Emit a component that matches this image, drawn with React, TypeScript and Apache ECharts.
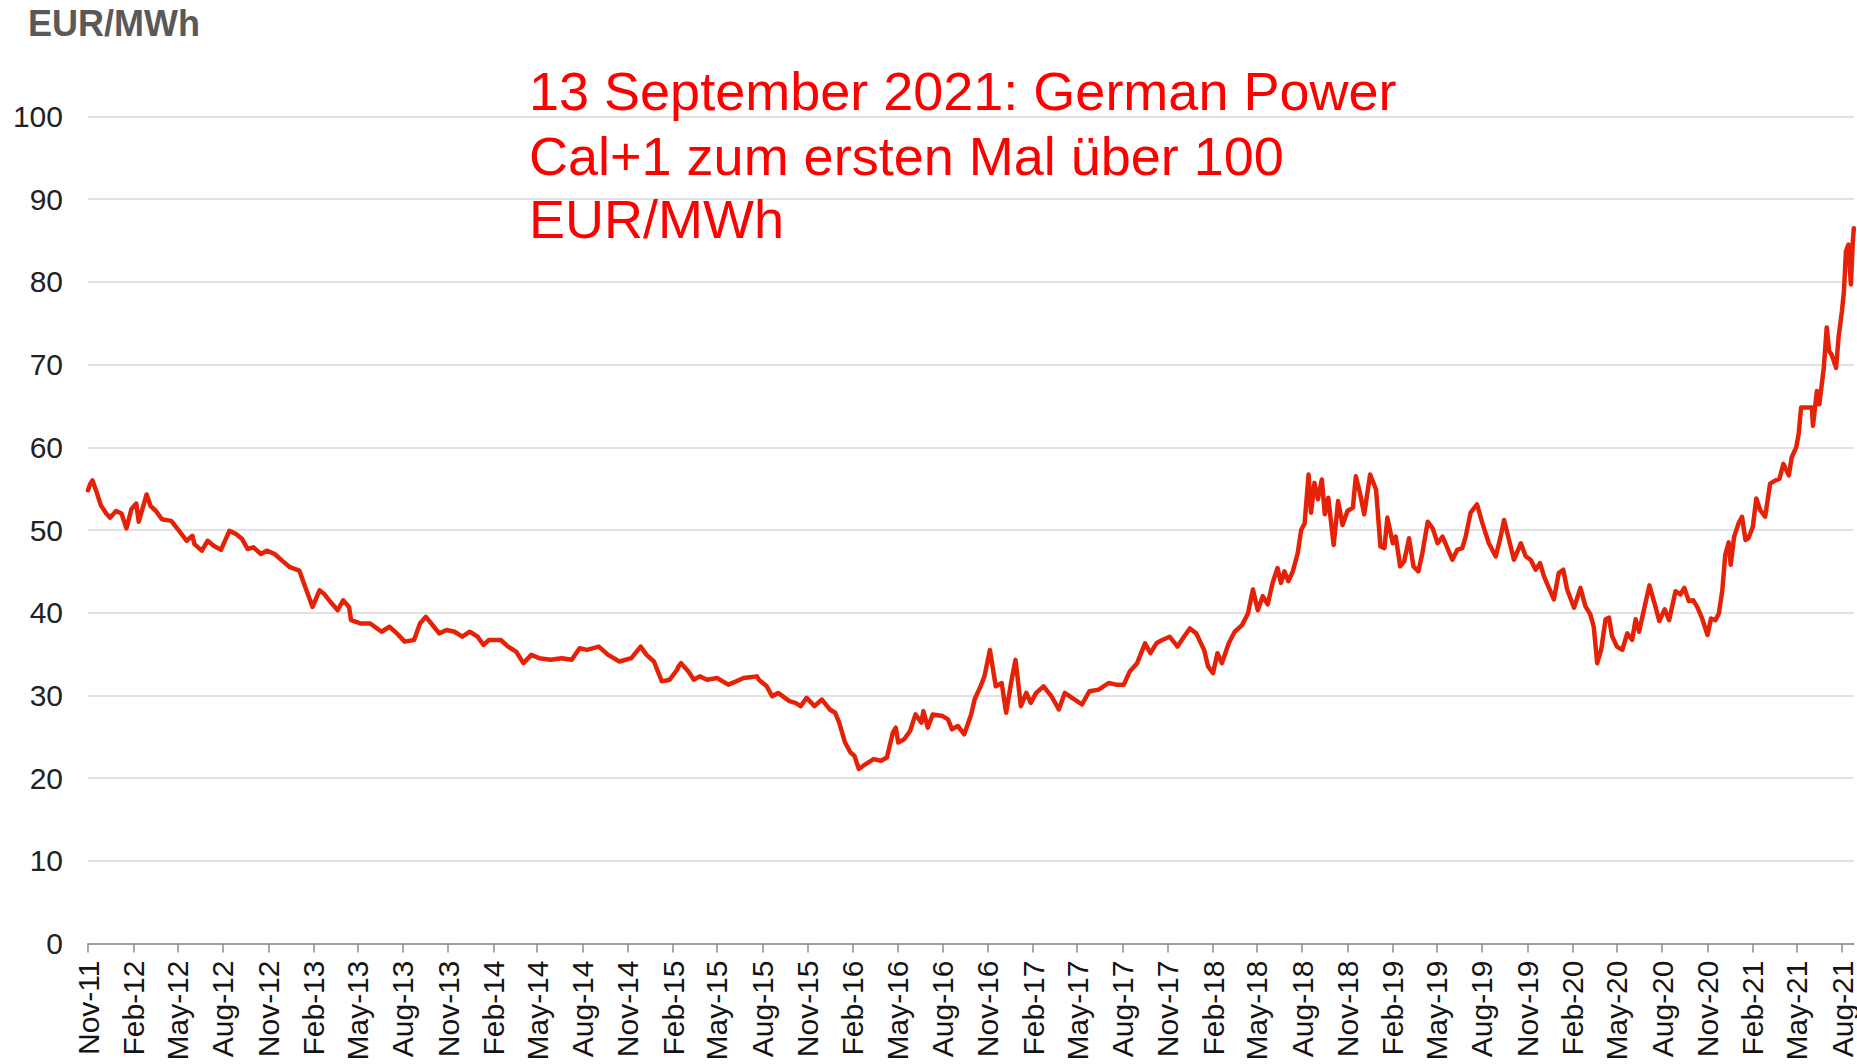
import React, { useEffect, useRef } from "react";
import * as echarts from "echarts";

const FONT = "'Liberation Sans', Arial, Helvetica, sans-serif";

// German Power Cal+1 baseload (EUR/MWh)
const priceDates = [
  "2011-11-01", "2011-11-05", "2011-11-10", "2011-11-19", "2011-11-27", "2011-12-08", "2011-12-16", "2011-12-28",
  "2012-01-08", "2012-01-18", "2012-01-28", "2012-02-07", "2012-02-12", "2012-02-28", "2012-03-07", "2012-03-18",
  "2012-03-30", "2012-04-18", "2012-05-04", "2012-05-19", "2012-05-31", "2012-06-04", "2012-06-19", "2012-07-01",
  "2012-07-13", "2012-07-28", "2012-08-14", "2012-08-28", "2012-09-09", "2012-09-20", "2012-10-02", "2012-10-17",
  "2012-10-29", "2012-11-14", "2012-11-29", "2012-12-15", "2013-01-03", "2013-01-15", "2013-01-30", "2013-02-13",
  "2013-02-22", "2013-03-10", "2013-03-22", "2013-04-02", "2013-04-14", "2013-04-18", "2013-05-07", "2013-05-27",
  "2013-06-19", "2013-07-05", "2013-07-20", "2013-08-05", "2013-08-24", "2013-09-05", "2013-09-17", "2013-09-28",
  "2013-10-14", "2013-10-29", "2013-11-14", "2013-11-30", "2013-12-15", "2013-12-31", "2014-01-12", "2014-01-23",
  "2014-02-16", "2014-03-03", "2014-03-19", "2014-04-03", "2014-04-19", "2014-05-05", "2014-05-28", "2014-06-20",
  "2014-07-10", "2014-07-26", "2014-08-10", "2014-09-03", "2014-09-22", "2014-10-15", "2014-11-08", "2014-11-27",
  "2014-12-09", "2014-12-24", "2015-01-09", "2015-01-25", "2015-02-09", "2015-02-12", "2015-02-17", "2015-03-04",
  "2015-03-15", "2015-03-27", "2015-04-11", "2015-05-01", "2015-05-24", "2015-06-09", "2015-06-24", "2015-07-21",
  "2015-07-25", "2015-08-10", "2015-08-21", "2015-09-02", "2015-09-25", "2015-10-07", "2015-10-18", "2015-10-30",
  "2015-11-15", "2015-11-30", "2015-12-16", "2015-12-27", "2016-01-04", "2016-01-16", "2016-01-27", "2016-02-04",
  "2016-02-13", "2016-02-27", "2016-03-14", "2016-03-29", "2016-04-10", "2016-04-22", "2016-04-28", "2016-05-03",
  "2016-05-15", "2016-05-27", "2016-06-07", "2016-06-19", "2016-06-23", "2016-07-02", "2016-07-12", "2016-08-01",
  "2016-08-12", "2016-08-20", "2016-09-01", "2016-09-14", "2016-09-28", "2016-10-05", "2016-10-17", "2016-10-25",
  "2016-11-05", "2016-11-17", "2016-11-29", "2016-12-08", "2016-12-18", "2016-12-27", "2017-01-07", "2017-01-18",
  "2017-01-27", "2017-02-07", "2017-02-22", "2017-03-10", "2017-03-25", "2017-04-06", "2017-04-21", "2017-05-11",
  "2017-05-26", "2017-06-14", "2017-07-04", "2017-07-19", "2017-08-04", "2017-08-16", "2017-08-31", "2017-09-16",
  "2017-09-27", "2017-10-09", "2017-10-21", "2017-11-05", "2017-11-21", "2017-12-02", "2017-12-16", "2017-12-29",
  "2018-01-14", "2018-01-22", "2018-02-01", "2018-02-10", "2018-02-19", "2018-03-05", "2018-03-17", "2018-04-01",
  "2018-04-13", "2018-04-23", "2018-05-03", "2018-05-13", "2018-05-23", "2018-06-02", "2018-06-12", "2018-06-19",
  "2018-06-26", "2018-07-04", "2018-07-13", "2018-07-23", "2018-07-30", "2018-08-06", "2018-08-14", "2018-08-19",
  "2018-08-26", "2018-09-02", "2018-09-10", "2018-09-16", "2018-09-23", "2018-10-04", "2018-10-13", "2018-10-22",
  "2018-11-01", "2018-11-12", "2018-11-18", "2018-11-27", "2018-12-05", "2018-12-17", "2018-12-29", "2019-01-07",
  "2019-01-15", "2019-01-21", "2019-02-01", "2019-02-07", "2019-02-16", "2019-02-24", "2019-03-06", "2019-03-15",
  "2019-03-25", "2019-04-02", "2019-04-13", "2019-04-23", "2019-05-03", "2019-05-13", "2019-05-23", "2019-06-02",
  "2019-06-12", "2019-06-22", "2019-06-29", "2019-07-09", "2019-07-22", "2019-08-02", "2019-08-15", "2019-08-29",
  "2019-09-08", "2019-09-15", "2019-09-25", "2019-10-05", "2019-10-19", "2019-10-29", "2019-11-08", "2019-11-18",
  "2019-11-27", "2019-12-05", "2019-12-15", "2019-12-25", "2020-01-04", "2020-01-13", "2020-01-21", "2020-02-04",
  "2020-02-17", "2020-02-27", "2020-03-08", "2020-03-15", "2020-03-22", "2020-03-30", "2020-04-08", "2020-04-15",
  "2020-04-21", "2020-05-01", "2020-05-12", "2020-05-22", "2020-06-01", "2020-06-08", "2020-06-15", "2020-06-25",
  "2020-07-06", "2020-07-17", "2020-07-26", "2020-08-06", "2020-08-15", "2020-08-28", "2020-09-07", "2020-09-15",
  "2020-09-24", "2020-10-03", "2020-10-11", "2020-10-21", "2020-11-01", "2020-11-08", "2020-11-17", "2020-11-24",
  "2020-12-01", "2020-12-07", "2020-12-14", "2020-12-18", "2020-12-25", "2021-01-03", "2021-01-10", "2021-01-17",
  "2021-01-23", "2021-02-01", "2021-02-08", "2021-02-16", "2021-02-26", "2021-03-08", "2021-03-19", "2021-03-27",
  "2021-04-04", "2021-04-15", "2021-04-21", "2021-04-30", "2021-05-05", "2021-05-10", "2021-05-25", "2021-06-01",
  "2021-06-03", "2021-06-11", "2021-06-16", "2021-06-25", "2021-07-01", "2021-07-06", "2021-07-11", "2021-07-20",
  "2021-07-25", "2021-08-01", "2021-08-05", "2021-08-09", "2021-08-14", "2021-08-19", "2021-08-23", "2021-08-25",
];

const priceValues = [
  54.8, 55.5, 56.0, 54.5, 53.0, 52.0, 51.5, 52.3,
  52.0, 50.2, 52.5, 53.2, 51.0, 54.3, 52.9, 52.3,
  51.3, 51.1, 49.9, 48.7, 49.3, 48.3, 47.5, 48.7,
  48.1, 47.6, 49.9, 49.5, 48.9, 47.7, 47.9, 47.1,
  47.5, 47.1, 46.3, 45.5, 45.1, 43.1, 40.7, 42.7,
  42.3, 41.1, 40.3, 41.5, 40.7, 39.1, 38.7, 38.7,
  37.7, 38.3, 37.5, 36.5, 36.7, 38.7, 39.5, 38.7,
  37.5, 37.9, 37.7, 37.1, 37.7, 37.1, 36.1, 36.7,
  36.7, 35.9, 35.3, 33.9, 34.9, 34.5, 34.3, 34.5,
  34.3, 35.7, 35.5, 35.9, 34.9, 34.1, 34.5, 35.9,
  34.9, 34.1, 31.7, 31.9, 33.1, 33.5, 33.9, 32.9,
  31.9, 32.3, 31.9, 32.1, 31.3, 31.7, 32.1, 32.3,
  31.9, 31.1, 29.9, 30.3, 29.3, 29.1, 28.7, 29.7,
  28.7, 29.5, 28.3, 27.9, 26.7, 24.3, 23.1, 22.7,
  21.1, 21.7, 22.3, 22.1, 22.5, 25.5, 26.1, 24.3,
  24.7, 25.7, 27.7, 26.7, 28.1, 26.1, 27.7, 27.5,
  27.1, 25.9, 26.3, 25.3, 27.7, 29.5, 31.1, 32.3,
  35.5, 31.1, 31.5, 27.9, 31.5, 34.3, 28.7, 30.3,
  29.1, 30.3, 31.1, 29.9, 28.3, 30.3, 29.7, 28.9,
  30.5, 30.7, 31.5, 31.3, 31.3, 32.9, 33.9, 36.3,
  35.1, 36.3, 36.7, 37.1, 35.9, 36.9, 38.1, 37.5,
  35.5, 33.5, 32.7, 35.1, 33.9, 36.3, 37.7, 38.5,
  39.9, 42.8, 40.3, 42.0, 41.0, 43.6, 45.4, 43.6,
  45.0, 43.8, 45.0, 47.2, 50.0, 50.8, 56.7, 52.1,
  55.7, 53.7, 56.1, 51.9, 53.9, 48.2, 53.5, 50.6,
  52.3, 52.7, 56.5, 54.3, 51.9, 56.7, 54.9, 48.0,
  47.8, 51.5, 48.4, 49.2, 45.6, 46.2, 49.0, 45.6,
  45.0, 47.2, 51.0, 50.2, 48.4, 49.2, 47.8, 46.4,
  47.6, 47.8, 49.2, 52.1, 53.1, 50.8, 48.4, 46.8,
  49.2, 51.2, 48.8, 46.4, 48.4, 46.8, 46.4, 45.2,
  46.0, 44.4, 43.0, 41.6, 44.8, 45.2, 42.8, 40.6,
  43.0, 40.8, 39.8, 38.3, 33.9, 35.5, 39.2, 39.4,
  37.2, 35.9, 35.5, 37.5, 36.7, 39.2, 37.7, 40.4,
  43.3, 41.0, 39.0, 40.4, 39.1, 42.6, 42.2, 43.0,
  41.4, 41.5, 40.7, 39.3, 37.3, 39.3, 39.1, 39.9,
  42.7, 47.0, 48.5, 45.8, 49.2, 50.8, 51.6, 48.8,
  49.0, 50.4, 53.8, 52.4, 51.6, 55.6, 56.0, 56.2,
  58.0, 56.6, 58.8, 60.0, 61.6, 64.8, 64.8, 64.8,
  62.6, 66.8, 65.2, 69.6, 74.5, 71.6, 71.2, 69.6,
  73.3, 76.5, 78.9, 83.7, 84.5, 79.7, 84.9, 86.5,
];

// quarterly tick months on the date axis
const tickMonths = [
  "2011-11", "2012-02", "2012-05", "2012-08", "2012-11", "2013-02", "2013-05", "2013-08",
  "2013-11", "2014-02", "2014-05", "2014-08", "2014-11", "2015-02", "2015-05", "2015-08",
  "2015-11", "2016-02", "2016-05", "2016-08", "2016-11", "2017-02", "2017-05", "2017-08",
  "2017-11", "2018-02", "2018-05", "2018-08", "2018-11", "2019-02", "2019-05", "2019-08",
  "2019-11", "2020-02", "2020-05", "2020-08", "2020-11", "2021-02", "2021-05", "2021-08",
];
const monthNames = ["Jan", "Feb", "Mar", "Apr", "May", "Jun", "Jul", "Aug", "Sep", "Oct", "Nov", "Dec"];

const axisStart = "2011-11-01";
const axisEnd = "2021-08-25";
const yMin = 0;
const yMax = 100;
const yStep = 10;

const unitTitle = "EUR/MWh";
const annotationLines = [
  "13 September 2021: German Power",
  "Cal+1 zum ersten Mal über 100",
  "EUR/MWh",
];

function toTime(s: string): number {
  const parts = s.split("-").map(Number);
  return Date.UTC(parts[0], parts[1] - 1, parts[2] || 1);
}

function fmtTick(v: number): string {
  const d = new Date(v);
  const yy = String(d.getUTCFullYear() % 100).padStart(2, "0");
  return monthNames[d.getUTCMonth()] + "-" + yy;
}

export default function App() {
  const ref = useRef<HTMLDivElement | null>(null);

  useEffect(() => {
    if (!ref.current) return;
    const chart = echarts.init(ref.current, undefined, { renderer: "svg" });
    const tickValues = tickMonths.map(toTime);
    const lineColor = "#e52207";
    const annY = [91, 155.5, 219];

    chart.setOption({
      animation: false,
      backgroundColor: "#ffffff",
      grid: { left: 88, right: 0, top: 116.5, bottom: 120.5, containLabel: false },
      xAxis: {
        type: "value",
        min: toTime(axisStart),
        max: toTime(axisEnd),
        scale: true,
        splitLine: { show: false },
        axisLine: { show: true, onZero: false, lineStyle: { color: "#8a8a8a", width: 1.5 } },
        axisTick: {
          show: true,
          length: 9,
          customValues: tickValues,
          lineStyle: { color: "#8a8a8a", width: 1.5 },
        },
        minorTick: { show: false },
        axisLabel: {
          customValues: tickValues,
          rotate: 90,
          margin: 17,
          fontSize: 30,
          fontFamily: FONT,
          color: "#141414",
          hideOverlap: false,
          showMinLabel: true,
          showMaxLabel: true,
          formatter: (v: number) => fmtTick(v),
        },
      },
      yAxis: {
        type: "value",
        min: yMin,
        max: yMax,
        interval: yStep,
        axisLine: { show: false },
        axisTick: { show: false },
        splitLine: { show: true, lineStyle: { color: "#d9d9d9", width: 1.5 } },
        axisLabel: {
          fontSize: 30,
          fontFamily: FONT,
          color: "#222222",
          margin: 25,
          padding: [0, 0, 5, 0],
        },
      },
      series: [
        {
          type: "line",
          data: priceDates.map((d, i) => [toTime(d), priceValues[i]]),
          showSymbol: false,
          symbol: "none",
          lineStyle: { color: lineColor, width: 4.5, join: "round", cap: "round" },
          itemStyle: { color: lineColor },
          clip: true,
          z: 5,
        },
      ],
      graphic: [
        {
          type: "text",
          x: 28,
          y: 23,
          style: {
            text: unitTitle,
            fill: "#595959",
            font: "bold 36px " + FONT,
            textAlign: "left",
            textVerticalAlign: "middle",
          },
          z: 10,
        },
        ...annotationLines.map((t, i) => ({
          type: "text",
          x: 529,
          y: annY[i],
          style: {
            text: t,
            fill: "#ff0000",
            font: "54px " + FONT,
            textAlign: "left",
            textVerticalAlign: "middle",
          },
          z: 10,
        })),
      ],
    });

    return () => {
      chart.dispose();
    };
  }, []);

  return (
    <div
      ref={ref}
      style={{ position: "absolute", left: 0, top: 0, width: 1857, height: 1064, background: "#fff" }}
    />
  );
}
